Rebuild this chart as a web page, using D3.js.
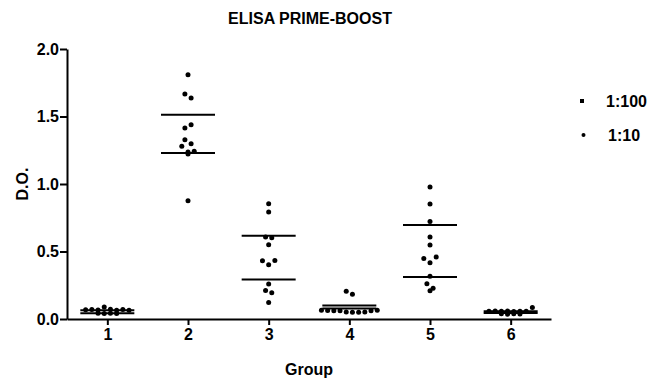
<!DOCTYPE html>
<html><head><meta charset="utf-8">
<script src="https://cdn.jsdelivr.net/npm/d3@7"></script>
<style>
body{margin:0;background:#fff}
svg{display:block}
text{font-family:"Liberation Sans",Arial,Helvetica,sans-serif;font-weight:bold;fill:#000}
</style>
</head><body>
<svg id="c" width="658" height="379"></svg>
<script>
// ---- data ----
const title = "ELISA PRIME-BOOST";
const xTitle = "Group";
const yTitle = "D.O.";
const categories = ["1", "2", "3", "4", "5", "6"];
const group1 = [0.068, 0.070, 0.066, 0.088, 0.072, 0.065, 0.070, 0.064, 0.043, 0.041, 0.042, 0.040];
const group2 = [1.810, 1.667, 1.637, 1.415, 1.439, 1.328, 1.299, 1.279, 1.237, 1.222, 1.242, 0.876];
const group3 = [0.854, 0.793, 0.607, 0.602, 0.550, 0.432, 0.402, 0.434, 0.259, 0.212, 0.195, 0.123];
const group4 = [0.205, 0.183, 0.064, 0.063, 0.062, 0.062, 0.052, 0.050, 0.050, 0.052, 0.062, 0.064];
const group5 = [0.978, 0.852, 0.723, 0.607, 0.548, 0.449, 0.417, 0.459, 0.316, 0.261, 0.210, 0.227];
const group6 = [0.058, 0.060, 0.057, 0.059, 0.056, 0.058, 0.057, 0.085, 0.038, 0.036, 0.039, 0.037];
const upperLine = [0.064, 1.513, 0.617, 0.100, 0.697, 0.058];
const lowerLine = [0.042, 1.229, 0.293, 0.078, 0.311, 0.045];
const yTicks = [0.0, 0.5, 1.0, 1.5, 2.0];
const legendLabels = ["1:100", "1:10"];

const groupValues = [group1, group2, group3, group4, group5, group6];

// ---- layout ----
const svg = d3.select("#c");
const x = d3.scaleLinear().domain([0.5, 6.5]).range([67, 551]);
const y = d3.scaleLinear().domain([0, 2]).range([319, 49]);

// title
svg.append("text").attr("x", 310).attr("y", 24).attr("text-anchor", "middle")
  .style("font-size", "16px").text(title);

// y axis
const yAxis = svg.append("g").attr("transform", "translate(67,0)")
  .call(d3.axisLeft(y).tickValues(yTicks).tickFormat(d3.format(".1f"))
    .tickSizeInner(7).tickSizeOuter(0).tickPadding(1));
yAxis.select(".domain").attr("stroke", "#000").attr("stroke-width", 2);
yAxis.selectAll(".tick line").attr("stroke", "#000").attr("stroke-width", 2);
yAxis.selectAll(".tick text").style("font-size", "16px").attr("font-family", null);

// x axis
const xAxis = svg.append("g").attr("transform", "translate(0,319)")
  .call(d3.axisBottom(x).tickValues(d3.range(1, categories.length + 1))
    .tickFormat(i => categories[i - 1]).tickSizeInner(6).tickSizeOuter(0).tickPadding(4));
xAxis.select(".domain").attr("stroke", "#000").attr("stroke-width", 2);
xAxis.selectAll(".tick line").attr("stroke", "#000").attr("stroke-width", 2);
xAxis.selectAll(".tick text").style("font-size", "16px").attr("font-family", null);

// axis titles
svg.append("text").attr("x", 309).attr("y", 375).attr("text-anchor", "middle")
  .style("font-size", "16px").text(xTitle);
svg.append("text").attr("transform", "translate(28,184) rotate(-90)")
  .attr("text-anchor", "middle").style("font-size", "16px").text(yTitle);

// scatter offsets (row-based swarm)
function swarm(vals) {
  const idx = vals.map((v, i) => i).sort((a, b) => vals[b] - vals[a]);
  const offs = new Array(vals.length).fill(0);
  let k = 0;
  while (k < idx.length) {
    const top = y(vals[idx[k]]);
    const row = [];
    while (k < idx.length && (y(vals[idx[k]]) - top) < 6) { row.push(idx[k]); k++; }
    row.sort((a, b) => a - b);
    row.forEach((j, m) => offs[j] = (m - (row.length - 1) / 2) * 6.2);
  }
  return offs;
}

const pts = [];
groupValues.forEach((vals, gi) => {
  const offs = swarm(vals);
  vals.forEach((v, i) => pts.push({ g: gi + 1, v, o: offs[i] }));
});

const plot = svg.append("g");
// horizontal lines
const lineHalf = 27;
plot.selectAll("line.up").data(upperLine).enter().append("line")
  .attr("x1", (d, i) => x(i + 1) - lineHalf).attr("x2", (d, i) => x(i + 1) + lineHalf)
  .attr("y1", d => y(d)).attr("y2", d => y(d))
  .attr("stroke", "#000").attr("stroke-width", 2);
plot.selectAll("line.lo").data(lowerLine).enter().append("line")
  .attr("x1", (d, i) => x(i + 1) - lineHalf).attr("x2", (d, i) => x(i + 1) + lineHalf)
  .attr("y1", d => y(d)).attr("y2", d => y(d))
  .attr("stroke", "#000").attr("stroke-width", 2);

plot.selectAll("circle.pt").data(pts).enter().append("circle")
  .attr("cx", d => x(d.g) + d.o).attr("cy", d => y(d.v)).attr("r", 2.5)
  .attr("fill", "#000");

// legend
const leg = svg.append("g");
const legY = d3.scalePoint().domain(legendLabels).range([101, 135]);
leg.append("rect").attr("x", 580).attr("y", legY(legendLabels[0]) - 2)
  .attr("width", 4).attr("height", 4).attr("fill", "#000");
leg.append("circle").attr("cx", 583.5).attr("cy", legY(legendLabels[1])).attr("r", 2)
  .attr("fill", "#000");
leg.selectAll("text").data(legendLabels).enter().append("text")
  .attr("x", (d, i) => i === 0 ? 606 : 608).attr("y", d => legY(d) + 6)
  .style("font-size", "16px").text(d => d);
</script>
</body></html>
